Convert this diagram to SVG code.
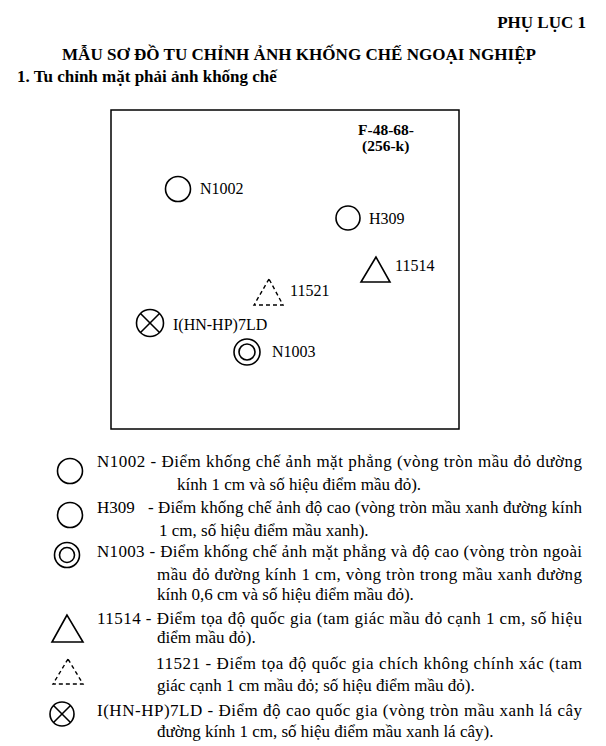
<svg xmlns="http://www.w3.org/2000/svg" width="606" height="746" viewBox="0 0 606 746">
<style>
.t{font-family:"Liberation Serif","Times New Roman",serif;fill:#000;}
.b{font-weight:bold;}
.lg{font-size:17px;}
.lb{font-size:16px;}
.s{fill:none;stroke:#000;stroke-width:1.6;}
.d{fill:none;stroke:#000;stroke-width:1.4;stroke-dasharray:4 3;}
.frame{fill:none;stroke:#000;stroke-width:1.5;}
</style>
<rect width="606" height="746" fill="#fff"/>
<g id="header">
<text class="t b" x="586" y="28" font-size="17" text-anchor="end">PHỤ LỤC 1</text>
<text class="t b" x="62" y="60" font-size="17" textLength="474" lengthAdjust="spacingAndGlyphs">MẪU SƠ ĐỒ TU CHỈNH ẢNH KHỐNG CHẾ NGOẠI NGHIỆP</text>
<text class="t b" x="17" y="82" font-size="17">1. Tu chỉnh mặt phải ảnh khống chế</text>
</g>
<g id="frame">
<rect class="frame" x="111" y="110" width="348" height="319"/>
<text class="t b" x="358" y="135" font-size="15.5">F-48-68-</text>
<text class="t b" x="362" y="151" font-size="15.5">(256-k)</text>
</g>
<g id="connectors"></g>
<g id="n-N1002">
<circle class="s" cx="178" cy="189" r="12.5"/>
<text class="t lb" x="200" y="194">N1002</text>
</g>
<g id="n-H309">
<circle class="s" cx="348" cy="218" r="12"/>
<text class="t lb" x="369" y="224">H309</text>
</g>
<g id="n-11514">
<polygon class="s" points="376,257 361,282 390,282"/>
<text class="t lb" x="395" y="271">11514</text>
</g>
<g id="n-11521">
<polygon class="d" points="269,279 254,305 283,305"/>
<text class="t lb" x="290" y="296">11521</text>
</g>
<g id="n-IHNHP7LD">
<circle class="s" cx="150" cy="323" r="13.5"/>
<line class="s" x1="140.5" y1="313.5" x2="159.5" y2="332.5"/>
<line class="s" x1="159.5" y1="313.5" x2="140.5" y2="332.5"/>
<text class="t lb" x="173" y="330">I(HN-HP)7LD</text>
</g>
<g id="n-N1003">
<circle class="s" cx="247" cy="352" r="13"/>
<circle class="s" cx="247" cy="352" r="8"/>
<text class="t lb" x="272" y="357">N1003</text>
</g>
<g id="legend">
<g id="lg-N1002">
<circle class="s" cx="70" cy="471" r="12.5"/>
<text class="t lg" x="97" y="467" textLength="485" lengthAdjust="spacing">N1002 - Điểm khống chế ảnh mặt phẳng (vòng tròn mầu đỏ dường</text>
<text class="t lg" x="177" y="490">kính 1 cm và số hiệu điểm mầu đỏ).</text>
</g>
<g id="lg-H309">
<circle class="s" cx="70" cy="515" r="12.5"/>
<text class="t lg" x="97" y="513">H309</text>
<text class="t lg" x="148" y="513" textLength="434" lengthAdjust="spacing">- Điểm khống chế ảnh độ cao (vòng tròn mầu xanh đường kính</text>
<text class="t lg" x="159" y="536">1 cm, số hiệu điểm mầu xanh).</text>
</g>
<g id="lg-N1003">
<circle class="s" cx="67" cy="555" r="12.5"/>
<circle class="s" cx="67" cy="555" r="7.5"/>
<text class="t lg" x="97" y="557" textLength="485" lengthAdjust="spacing">N1003 - Điểm khống chế ảnh mặt phẳng và độ cao (vòng tròn ngoài</text>
<text class="t lg" x="157" y="580" textLength="425" lengthAdjust="spacing">mầu đỏ đường kính 1 cm, vòng tròn trong mầu xanh đường</text>
<text class="t lg" x="157" y="600">kính 0,6 cm và số hiệu điểm mầu đỏ).</text>
</g>
<g id="lg-11514">
<polygon class="s" points="67,615 52,642 83,642"/>
<text class="t lg" x="97" y="624" textLength="485" lengthAdjust="spacing">11514 - Điểm tọa độ quốc gia (tam giác mầu đỏ cạnh 1 cm, số hiệu</text>
<text class="t lg" x="157" y="643">điểm mầu đỏ).</text>
</g>
<g id="lg-11521">
<polygon class="d" points="68,659 53,684 83,684"/>
<text class="t lg" x="156" y="669" textLength="426" lengthAdjust="spacing">11521 - Điểm tọa độ quốc gia chích không chính xác (tam</text>
<text class="t lg" x="157" y="691">giác cạnh 1 cm mầu đỏ; số hiệu điểm mầu đỏ).</text>
</g>
<g id="lg-IHNHP7LD">
<circle class="s" cx="62" cy="714" r="12"/>
<line class="s" x1="53.5" y1="705.5" x2="70.5" y2="722.5"/>
<line class="s" x1="70.5" y1="705.5" x2="53.5" y2="722.5"/>
<text class="t lg" x="97" y="716" textLength="485" lengthAdjust="spacing">I(HN-HP)7LD - Điểm độ cao quốc gia (vòng tròn mầu xanh lá cây</text>
<text class="t lg" x="157" y="737">đường kính 1 cm, số hiệu điểm mầu xanh lá cây).</text>
</g>
</g>
</svg>
